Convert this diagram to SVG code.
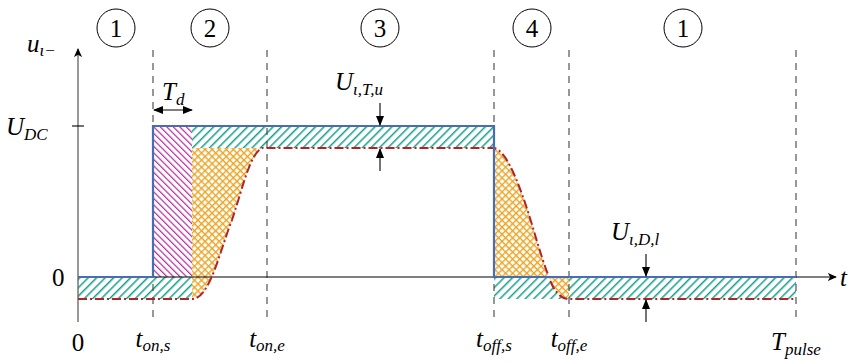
<svg xmlns="http://www.w3.org/2000/svg" width="851" height="362" viewBox="0 0 851 362">
<defs>
  <pattern id="teal" patternUnits="userSpaceOnUse" width="6" height="6" patternTransform="rotate(45)">
    <rect x="0" y="0" width="1.5" height="6" fill="#13a08a"/>
  </pattern>
  <pattern id="mag" patternUnits="userSpaceOnUse" width="4.6" height="4.6" patternTransform="rotate(-45)">
    <rect x="0" y="0" width="1.2" height="4.6" fill="#b3289a"/>
  </pattern>
  <pattern id="orng" patternUnits="userSpaceOnUse" width="5" height="5" patternTransform="rotate(45)">
    <rect x="0" y="0" width="1.4" height="5" fill="#eaa424"/>
    <rect x="0" y="0" width="5" height="1.4" fill="#eaa424"/>
  </pattern>
  <marker id="ah" viewBox="0 0 10 10" refX="9" refY="5" markerWidth="9" markerHeight="9" markerUnits="userSpaceOnUse" orient="auto-start-reverse">
    <path d="M0,0.5 L10,5 L0,9.5 L2.5,5 Z" fill="#000"/>
  </marker>
  <marker id="ahb" viewBox="0 0 10 10" refX="9" refY="5" markerWidth="10" markerHeight="10" markerUnits="userSpaceOnUse" orient="auto-start-reverse">
    <path d="M0,1 L10,5 L0,9 Z" fill="#000"/>
  </marker>
</defs>

<g id="fills">
  <rect x="153" y="126" width="39" height="151" fill="url(#mag)"/>
  <rect x="192" y="126" width="302" height="22" fill="url(#teal)"/>
  <rect x="78" y="277" width="114" height="22" fill="url(#teal)"/>
  <path d="M192,148 L262,148 C250,155 245,180 232,220 C220,250 210,299 192,299 Z" fill="url(#orng)"/>
  <path d="M494,148 C505,150 515,175 523,197 C533,225 540,255 549,277 L494,277 Z" fill="url(#orng)"/>
  <path d="M549,277 C553,290 560,299 569,299 L569,277 Z" fill="url(#orng)"/>
  <path d="M494,277 L549,277 C553,290 560,299 569,299 L494,299 Z" fill="url(#teal)"/>
  <rect x="569" y="277" width="227" height="22" fill="url(#teal)"/>
</g>

<g id="gridlines" stroke="#444" stroke-width="1.1" stroke-dasharray="7 6" fill="none">
  <line x1="153" y1="50" x2="153" y2="322"/>
  <line x1="267" y1="50" x2="267" y2="322"/>
  <line x1="494" y1="50" x2="494" y2="322"/>
  <line x1="569" y1="50" x2="569" y2="322"/>
  <line x1="796" y1="50" x2="796" y2="322"/>
</g>

<g id="axes">
  <line x1="78" y1="322" x2="78" y2="49" stroke="#555" stroke-width="1.2" marker-end="url(#ah)"/>
  <line x1="78" y1="277" x2="836" y2="277" stroke="#000" stroke-width="1.1" marker-end="url(#ah)"/>
  <line x1="72" y1="126" x2="84" y2="126" stroke="#000" stroke-width="1.1"/>
</g>

<g id="signals" fill="none">
  <path stroke="#b22228" stroke-width="2" stroke-dasharray="9 3 2 3" d="M78,299 L192,299 C210,299 220,250 232,220 C245,180 250,155 262,148 L494,148 C505,150 515,175 523,197 C533,225 540,255 549,277 C553,290 560,299 569,299 L796,299"/>
  <path stroke="#4a6cb4" stroke-width="2.2" d="M78,277 L153,277 L153,126 L494,126 L494,277 L796,277"/>
</g>

<g id="connectors" stroke="#000" stroke-width="1.1" fill="none">
  <line x1="154" y1="110" x2="192" y2="110" marker-start="url(#ahb)" marker-end="url(#ahb)"/>
  <line x1="380" y1="103" x2="380" y2="125" marker-end="url(#ahb)"/>
  <line x1="380" y1="171" x2="380" y2="149" marker-end="url(#ahb)"/>
  <line x1="646" y1="254" x2="646" y2="276" marker-end="url(#ahb)"/>
  <line x1="646" y1="322" x2="646" y2="300" marker-end="url(#ahb)"/>
</g>

<g id="phase1a"><circle cx="116" cy="28" r="19" fill="none" stroke="#000"/><text x="116" y="37" text-anchor="middle" font-family="'Liberation Serif', serif" font-size="25">1</text></g>
<g id="phase2"><circle cx="210" cy="28" r="19" fill="none" stroke="#000"/><text x="210" y="37" text-anchor="middle" font-family="'Liberation Serif', serif" font-size="25">2</text></g>
<g id="phase3"><circle cx="380" cy="28" r="19" fill="none" stroke="#000"/><text x="380" y="37" text-anchor="middle" font-family="'Liberation Serif', serif" font-size="25">3</text></g>
<g id="phase4"><circle cx="532" cy="28" r="19" fill="none" stroke="#000"/><text x="532" y="37" text-anchor="middle" font-family="'Liberation Serif', serif" font-size="25">4</text></g>
<g id="phase1b"><circle cx="683" cy="28" r="19" fill="none" stroke="#000"/><text x="683" y="37" text-anchor="middle" font-family="'Liberation Serif', serif" font-size="25">1</text></g>

<g id="labels" font-family="'Liberation Serif', serif" font-size="25">
  <text x="27" y="52" font-style="italic">u<tspan dy="4" font-size="17">&#953;&#8722;</tspan></text>
  <text x="6" y="135" font-style="italic">U<tspan dy="5" font-size="17">DC</tspan></text>
  <text x="52" y="286">0</text>
  <text x="78" y="351" text-anchor="middle">0</text>
  <text x="162" y="100" font-style="italic">T<tspan dy="5" font-size="17">d</tspan></text>
  <text x="335" y="90" font-style="italic">U<tspan dy="5" font-size="17">&#953;,T,u</tspan></text>
  <text x="611" y="240" font-style="italic">U<tspan dy="5" font-size="17">&#953;,D,l</tspan></text>
  <text x="153" y="347" text-anchor="middle" font-style="italic">t<tspan dy="4" font-size="17">on,s</tspan></text>
  <text x="267" y="347" text-anchor="middle" font-style="italic">t<tspan dy="4" font-size="17">on,e</tspan></text>
  <text x="494" y="347" text-anchor="middle" font-style="italic">t<tspan dy="4" font-size="17">off,s</tspan></text>
  <text x="569" y="347" text-anchor="middle" font-style="italic">t<tspan dy="4" font-size="17">off,e</tspan></text>
  <text x="796" y="350" text-anchor="middle" font-style="italic">T<tspan dy="5" font-size="17">pulse</tspan></text>
  <text x="840" y="286" font-style="italic">t</text>
</g>
</svg>
